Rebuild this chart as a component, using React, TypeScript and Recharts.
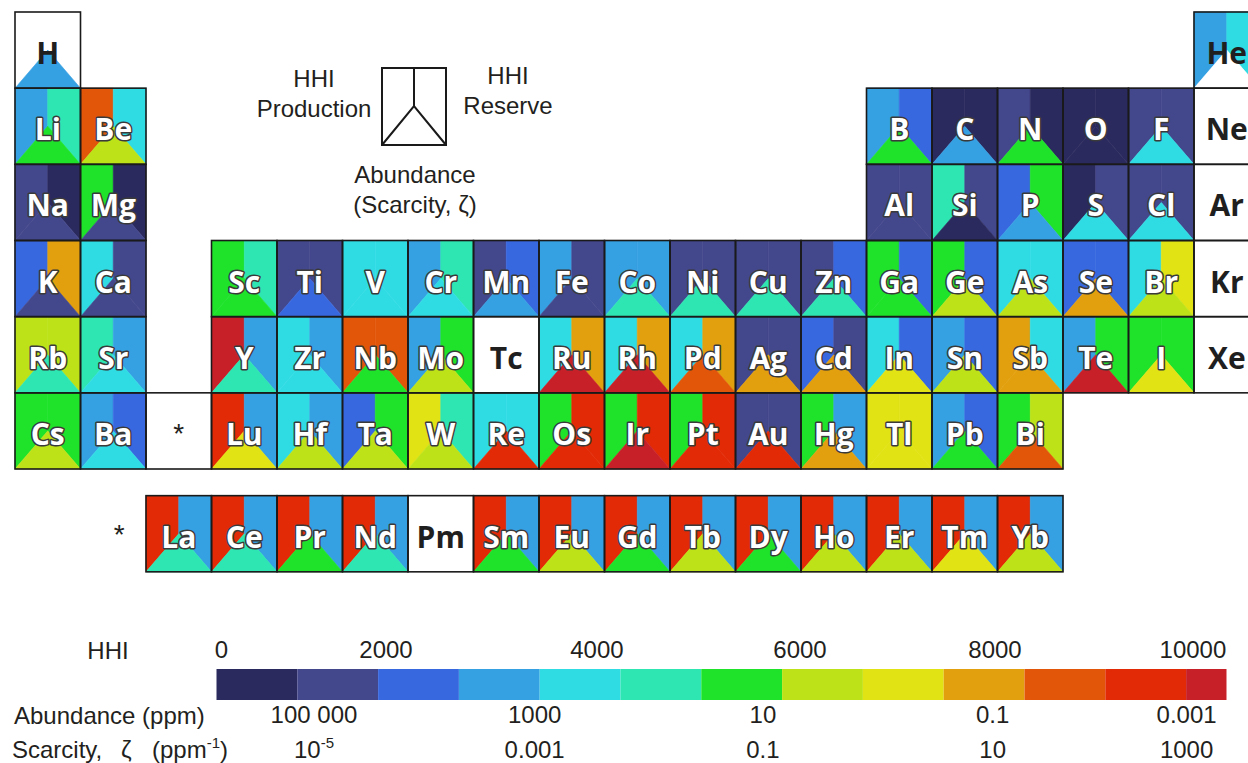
import React from 'react'
import { ScatterChart, Scatter, XAxis, YAxis, BarChart, Bar } from 'recharts'

const INK = '#231f20'

// HHI colour scale, steps of 800
const binColors = [
  '#2b2a5e', '#43478c', '#3868e0', '#35a0e2', '#30dce4', '#2ee6b2', '#1ee32a',
  '#bde318', '#e2e314', '#e2a00e', '#e2560a', '#e22a06', '#c82028',
]
const binEdges = [0, 800, 1600, 2400, 3200, 4000, 4800, 5600, 6400, 7200, 8000, 8800, 9600, 10000]

// periodic table layout
const periodSymbols = [
  ['H', 'He'],
  ['Li', 'Be', 'B', 'C', 'N', 'O', 'F', 'Ne'],
  ['Na', 'Mg', 'Al', 'Si', 'P', 'S', 'Cl', 'Ar'],
  ['K', 'Ca', 'Sc', 'Ti', 'V', 'Cr', 'Mn', 'Fe', 'Co', 'Ni', 'Cu', 'Zn', 'Ga', 'Ge', 'As', 'Se', 'Br', 'Kr'],
  ['Rb', 'Sr', 'Y', 'Zr', 'Nb', 'Mo', 'Tc', 'Ru', 'Rh', 'Pd', 'Ag', 'Cd', 'In', 'Sn', 'Sb', 'Te', 'I', 'Xe'],
  ['Cs', 'Ba', '*', 'Lu', 'Hf', 'Ta', 'W', 'Re', 'Os', 'Ir', 'Pt', 'Au', 'Hg', 'Tl', 'Pb', 'Bi'],
  ['*', 'La', 'Ce', 'Pr', 'Nd', 'Pm', 'Sm', 'Eu', 'Gd', 'Tb', 'Dy', 'Ho', 'Er', 'Tm', 'Yb'],
]
const periodColumns = [
  [1, 19],
  [1, 2, 14, 15, 16, 17, 18, 19],
  [1, 2, 14, 15, 16, 17, 18, 19],
  [1, 2, 4, 5, 6, 7, 8, 9, 10, 11, 12, 13, 14, 15, 16, 17, 18, 19],
  [1, 2, 4, 5, 6, 7, 8, 9, 10, 11, 12, 13, 14, 15, 16, 17, 18, 19],
  [1, 2, 3, 4, 5, 6, 7, 8, 9, 10, 11, 12, 13, 14, 15, 16],
  [2.09, 3, 4, 5, 6, 7, 8, 9, 10, 11, 12, 13, 14, 15, 16],
]
const periodRows = [1, 2, 3, 4, 5, 6, 7.35]

// values in element order (null = no data)
const hhiProduction = [
  null, 2800,
  2800, 8400, 2800, 500, 1200, 500, 1200, null,
  1200, 5200, 1200, 4400, 2000, 500, 1200, null,
  2000, 3600, 5200, 1200, 3600, 2800, 1200, 2800, 2800, 1200, 1200, 1200, 5200, 5200, 3600, 2000, 3600, null,
  6000, 4400, 9800, 3600, 8400, 2800, null, 3600, 3600, 3600, 1200, 2000, 3600, 2800, 7600, 2800, 5200, null,
  5200, 2800, null, 9200, 3600, 2000, 6800, 3600, 5200, 5200, 5200, 1200, 5200, 6800, 2800, 5200,
  null, 9200, 9200, 9200, 9200, null, 9200, 9200, 9200, 9200, 9200, 9200, 9200, 9200, 9200,
]
const hhiReserve = [
  null, 3600,
  4400, 3600, 2000, 500, 500, 500, 1200, null,
  500, 500, 1200, 1200, 5200, 1200, 1200, null,
  7600, 1200, 4400, 1200, 3600, 4400, 2000, 1200, 2800, 1200, 1200, 2000, 2000, 2000, 3600, 2000, 6800, null,
  6000, 2800, 2800, 2800, 8400, 5200, null, 7600, 7600, 7600, 1200, 1200, 2000, 2000, 3600, 5200, 5200, null,
  5200, 2000, null, 2800, 2800, 5200, 4400, 3600, 9200, 9200, 9200, 1200, 2800, 6800, 2000, 6000,
  null, 2800, 2800, 2800, 2800, null, 2800, 2800, 2800, 2800, 2800, 2800, 2800, 2800, 2800,
]
// abundance placed on the same colour scale
const abundanceLevel = [
  2800, null,
  5200, 6000, 5200, 2800, 5200, 500, 3600, null,
  1200, 1200, 1200, 500, 2800, 3600, 3600, null,
  1200, 1200, 5200, 2000, 3600, 3600, 2800, 1200, 4400, 4400, 4400, 4400, 5200, 6000, 6000, 7600, 6000, null,
  4400, 3600, 4400, 3600, 5200, 6000, null, 9800, 9800, 8400, 7600, 7600, 6800, 6000, 7600, 9800, 6800, null,
  6000, 3600, null, 6800, 6000, 6000, 6000, 9200, 9200, 9800, 9200, 9200, 7600, 6800, 5200, 8400,
  null, 4400, 4400, 5200, 4400, null, 5200, 6000, 5200, 6000, 5200, 6000, 6000, 6800, 6000,
]

// colour bar labels
const hhiTickLabels = ['0', '2000', '4000', '6000', '8000', '10000']
const hhiTickPos = [48, 1678, 3767, 5777, 7708, 9668]
const abundanceLabels = ['100 000', '1000', '10', '0.1', '0.001']
const scarcityLabels = ['10^-5', '0.001', '0.1', '10', '1000']
const scaleTickPos = [965, 3150, 5410, 7685, 9605]

const TABLE_W = 1262
const TABLE_H = 600
const TM = { top: 12, right: 2.5, bottom: 54.83, left: 15 }
const CELL_W = (TABLE_W - TM.left - TM.right) / 19
const CELL_H = (TABLE_H - TM.top - TM.bottom) / 7

const BAR_MARGIN = { top: 0, right: 21.5, bottom: 63, left: 216.5 }

const colorFor = (v: number | null) => {
  if (v == null) return '#ffffff'
  const i = binEdges.findIndex((e, k) => v >= e && v < binEdges[k + 1])
  return binColors[i < 0 ? binColors.length - 1 : i]
}

let k = 0
const cells = periodSymbols.flatMap((syms, p) =>
  syms.map((s, j) => {
    const i = k++
    const col = periodColumns[p][j]
    return {
      symbol: s,
      col,
      row: periodRows[p],
      prod: hhiProduction[i],
      res: hhiReserve[i],
      ab: abundanceLevel[i],
      kind: s === '*' ? (Number.isInteger(col) ? 'starCell' : 'star') : 'element',
    }
  })
)

const pts = (a: number[][]) => a.map(p => p.join(',')).join(' ')

const FillShape = (props: any) => {
  const { cx, cy, payload } = props
  if (payload.kind !== 'element') return <g />
  const x0 = cx - CELL_W / 2, x1 = cx + CELL_W / 2
  const y0 = cy - CELL_H / 2, y1 = cy + CELL_H / 2
  const parts = [
    { p: [[x0, y0], [cx, y0], [cx, cy], [x0, y1]], c: colorFor(payload.prod) },
    { p: [[cx, y0], [x1, y0], [x1, y1], [cx, cy]], c: colorFor(payload.res) },
    { p: [[x0, y1], [cx, cy], [x1, y1]], c: colorFor(payload.ab) },
  ]
  return (
    <g>
      {parts.map((q, n) => (
        <polygon key={n} points={pts(q.p)} fill={q.c} stroke={q.c} strokeWidth={0.6} />
      ))}
    </g>
  )
}

const OutlineShape = (props: any) => {
  const { cx, cy, payload } = props
  const x0 = cx - CELL_W / 2, y0 = cy - CELL_H / 2
  if (payload.kind === 'star') {
    return <text x={cx} y={cy + 10} textAnchor="middle" fontSize={28} fill={INK} fontFamily="Liberation Sans, Arial">*</text>
  }
  if (payload.kind === 'starCell') {
    return (
      <g>
        <rect x={x0} y={y0} width={CELL_W} height={CELL_H} fill="none" stroke="#1a1a1a" strokeWidth={1.6} />
        <text x={cx} y={cy + 12} textAnchor="middle" fontSize={28} fill={INK} fontFamily="Liberation Sans, Arial">*</text>
      </g>
    )
  }
  const dark = payload.prod == null || payload.ab == null
  return (
    <g>
      <rect x={x0} y={y0} width={CELL_W} height={CELL_H} fill="none" stroke="#1a1a1a" strokeWidth={1.6} />
      <text
        x={cx}
        y={cy + 14}
        textAnchor="middle"
        fontFamily="Open Sans"
        fontWeight={700}
        fontSize={30}
        fill={dark ? '#1f1f1f' : '#ffffff'}
        stroke={dark ? 'none' : '#3a3a3a'}
        strokeWidth={3}
        strokeLinejoin="round"
        style={{ paintOrder: 'stroke' }}
      >
        {payload.symbol}
      </text>
    </g>
  )
}

const barRow = [
  binColors.reduce((o: any, _c, i) => {
    o[`b${i}`] = binEdges[i + 1] - binEdges[i]
    return o
  }, { name: 'HHI' }),
]

const HhiTick = ({ x, y, index }: any) => (
  <text x={x} y={y - 11} textAnchor="middle" fontSize={24} fill={INK}>{hhiTickLabels[index]}</text>
)

const renderSup = (s: string) => {
  const [base, sup] = s.split('^')
  if (!sup) return s
  return (
    <>
      {base}
      <tspan fontSize={15} dy={-10}>{sup}</tspan>
    </>
  )
}

const ScaleTick = ({ x, y, index }: any) => (
  <g>
    <text x={x} y={y + 23} textAnchor="middle" fontSize={24} fill={INK}>{abundanceLabels[index]}</text>
    <text x={x} y={y + 58} textAnchor="middle" fontSize={24} fill={INK}>{renderSup(scarcityLabels[index])}</text>
  </g>
)

const App = () => {
  return (
    <div style={{ position: 'absolute', left: 0, top: 0, width: 1248, height: 763, overflow: 'hidden', background: '#fff', fontFamily: 'Liberation Sans, Arial, sans-serif' }}>
      <div style={{ position: 'absolute', left: 0, top: 0 }}>
        <ScatterChart width={TABLE_W} height={TABLE_H} margin={TM}>
          <XAxis type="number" dataKey="col" domain={[0.5, 19.5]} hide />
          <YAxis type="number" dataKey="row" domain={[0.5, 7.5]} reversed hide />
          <Scatter data={cells} shape={FillShape} isAnimationActive={false} />
          <Scatter data={cells} shape={OutlineShape} isAnimationActive={false} />
        </ScatterChart>
      </div>

      <div style={{ position: 'absolute', left: 0, top: 630 }}>
        <BarChart width={1248} height={133} data={barRow} layout="vertical" barCategoryGap={0} margin={BAR_MARGIN}>
          <XAxis xAxisId="hhi" type="number" orientation="top" domain={[0, 10000]} ticks={hhiTickPos}
            interval={0} height={39} axisLine={false} tickLine={false} tickSize={0} tickMargin={0} tick={<HhiTick />} />
          <YAxis type="category" dataKey="name" hide />
          {binColors.map((c, i) => (
            <Bar key={i} xAxisId="hhi" dataKey={`b${i}`} stackId="s" fill={c} isAnimationActive={false} />
          ))}
        </BarChart>
      </div>

      <div style={{ position: 'absolute', left: 0, top: 630 }}>
        <BarChart width={1248} height={133} data={barRow} layout="vertical" barCategoryGap={0}
          margin={{ ...BAR_MARGIN, top: 39, bottom: 0 }}>
          <XAxis xAxisId="scale" type="number" orientation="bottom" domain={[0, 10000]} ticks={scaleTickPos}
            interval={0} height={63} axisLine={false} tickLine={false} tickSize={0} tickMargin={0} tick={<ScaleTick />} />
          <YAxis type="category" dataKey="name" hide />
          <Bar xAxisId="scale" dataKey="b0" fill="none" isAnimationActive={false} />
        </BarChart>
      </div>

      <svg width={1248} height={763} style={{ position: 'absolute', left: 0, top: 0, pointerEvents: 'none' }}>
        <g fill={INK} fontSize={24}>
          <text x={314} y={87} textAnchor="middle">HHI</text>
          <text x={314} y={117} textAnchor="middle">Production</text>
          <text x={508} y={84} textAnchor="middle">HHI</text>
          <text x={508} y={114} textAnchor="middle">Reserve</text>
          <text x={415} y={183} textAnchor="middle">Abundance</text>
          <text x={415} y={213} textAnchor="middle">(Scarcity, ζ)</text>
          <text x={108} y={659} textAnchor="middle">HHI</text>
          <text x={14} y={724}>Abundance (ppm)</text>
          <text x={12} y={758}>Scarcity,</text>
          <text x={121} y={758}>ζ</text>
          <text x={152} y={758}>(ppm<tspan fontSize={15} dy={-10}>-1</tspan><tspan dy={10}>)</tspan></text>
        </g>
        <g fill="none" stroke="#1a1a1a" strokeWidth={2}>
          <rect x={382} y={68} width={64} height={77} />
          <polyline points="382,145 414,106 446,145" />
          <line x1={414} y1={68} x2={414} y2={106} />
        </g>
      </svg>
    </div>
  )
}

export default App
